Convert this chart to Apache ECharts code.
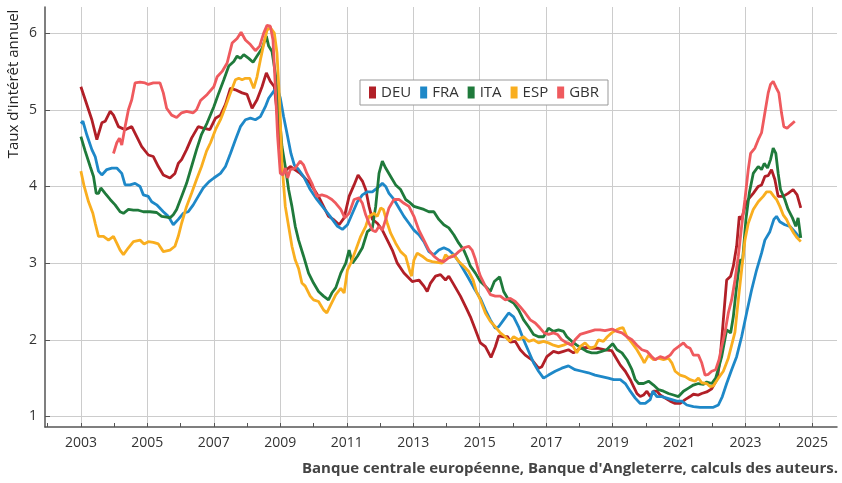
<!DOCTYPE html>
<html lang="fr">
<head>
<meta charset="utf-8">
<title>Taux d'intérêt annuel</title>
<script src="https://cdn.jsdelivr.net/npm/echarts@6.0.0/dist/echarts.min.js"></script>
<style>
  html, body { margin: 0; padding: 0; background: #fff; }
  .line .chart { width: 842px; height: 483px; }
</style>
</head>
<body>
<div class="line"><div class="chart"></div></div>
<script>
// tick labels
var yearLabels = [2003, 2005, 2007, 2009, 2011, 2013, 2015, 2017, 2019, 2021, 2023, 2025];
var yearMinor = [2002, 2004, 2006, 2008, 2010, 2012, 2014, 2016, 2018, 2020, 2022, 2024];
var rateLabels = [1, 2, 3, 4, 5, 6];
var countries = ["DEU", "FRA", "ITA", "ESP", "GBR"];

// [année, taux]
var deu = [[2003.0,5.30],[2003.13,5.13],[2003.23,5.0],[2003.33,4.87],[2003.48,4.61],[2003.63,4.83],[2003.73,4.85],[2003.88,4.98],[2003.98,4.93],[2004.13,4.78],[2004.33,4.74],[2004.53,4.78],[2004.68,4.65],[2004.83,4.52],[2005.03,4.41],[2005.18,4.39],[2005.33,4.26],[2005.48,4.15],[2005.68,4.11],[2005.83,4.17],[2005.93,4.30],[2006.03,4.35],[2006.18,4.48],[2006.33,4.63],[2006.53,4.78],[2006.68,4.76],[2006.88,4.74],[2007.05,4.89],[2007.2,4.93],[2007.35,5.07],[2007.5,5.28],[2007.65,5.26],[2007.85,5.22],[2008.0,5.2],[2008.15,5.02],[2008.3,5.13],[2008.45,5.30],[2008.58,5.48],[2008.7,5.37],[2008.82,5.30],[2008.95,4.78],[2009.05,4.17],[2009.3,4.26],[2009.6,4.17],[2009.9,4.04],[2010.15,3.87],[2010.45,3.61],[2010.6,3.57],[2010.77,3.5],[2010.92,3.59],[2011.07,3.87],[2011.22,4.02],[2011.34,4.15],[2011.47,4.07],[2011.57,3.96],[2011.67,3.74],[2011.77,3.57],[2011.92,3.52],[2012.07,3.43],[2012.22,3.3],[2012.37,3.17],[2012.52,3.0],[2012.72,2.87],[2012.97,2.76],[2013.17,2.78],[2013.32,2.7],[2013.42,2.63],[2013.52,2.74],[2013.67,2.83],[2013.82,2.85],[2013.97,2.78],[2014.07,2.83],[2014.22,2.72],[2014.42,2.57],[2014.6,2.41],[2014.72,2.30],[2014.87,2.13],[2015.02,1.96],[2015.17,1.91],[2015.34,1.77],[2015.47,1.91],[2015.57,2.05],[2015.72,2.04],[2015.84,2.04],[2015.92,1.97],[2016.07,1.98],[2016.22,1.87],[2016.37,1.80],[2016.57,1.74],[2016.77,1.63],[2016.87,1.65],[2017.02,1.78],[2017.22,1.85],[2017.37,1.83],[2017.52,1.85],[2017.67,1.87],[2017.82,1.83],[2018.02,1.89],[2018.22,1.9],[2018.37,1.89],[2018.57,1.89],[2018.77,1.87],[2018.97,1.86],[2019.08,1.78],[2019.23,1.67],[2019.38,1.59],[2019.53,1.48],[2019.63,1.39],[2019.73,1.30],[2019.83,1.26],[2019.93,1.28],[2020.03,1.33],[2020.13,1.26],[2020.23,1.33],[2020.33,1.33],[2020.43,1.28],[2020.58,1.24],[2020.73,1.20],[2020.88,1.17],[2021.03,1.17],[2021.18,1.22],[2021.33,1.26],[2021.43,1.29],[2021.58,1.28],[2021.68,1.30],[2021.83,1.32],[2021.98,1.36],[2022.08,1.44],[2022.15,1.50],[2022.23,1.74],[2022.33,2.26],[2022.43,2.78],[2022.55,2.83],[2022.63,2.96],[2022.73,3.22],[2022.81,3.61],[2022.88,3.57],[2022.98,3.74],[2023.08,3.83],[2023.23,3.91],[2023.38,4.0],[2023.48,4.02],[2023.58,4.13],[2023.68,4.14],[2023.78,4.22],[2023.88,4.09],[2023.98,3.87],[2024.13,3.87],[2024.28,3.91],[2024.43,3.96],[2024.55,3.89],[2024.66,3.72]];

var fra = [[2003.0,4.82],[2003.06,4.85],[2003.18,4.67],[2003.33,4.48],[2003.43,4.39],[2003.53,4.2],[2003.63,4.15],[2003.78,4.22],[2003.93,4.24],[2004.08,4.24],[2004.23,4.17],[2004.33,4.02],[2004.48,4.02],[2004.63,4.04],[2004.78,4.0],[2004.88,3.89],[2005.03,3.87],[2005.13,3.8],[2005.28,3.76],[2005.48,3.67],[2005.63,3.61],[2005.78,3.5],[2005.93,3.57],[2006.08,3.65],[2006.23,3.67],[2006.38,3.76],[2006.53,3.87],[2006.68,3.98],[2006.85,4.06],[2007.0,4.11],[2007.2,4.17],[2007.35,4.26],[2007.5,4.43],[2007.65,4.61],[2007.8,4.78],[2007.95,4.87],[2008.1,4.89],[2008.25,4.87],[2008.4,4.91],[2008.55,5.04],[2008.65,5.15],[2008.8,5.24],[2008.9,5.3],[2009.0,5.15],[2009.1,4.91],[2009.22,4.65],[2009.32,4.43],[2009.42,4.28],[2009.55,4.22],[2009.7,4.13],[2009.9,3.96],[2010.1,3.83],[2010.3,3.72],[2010.5,3.61],[2010.72,3.48],[2010.87,3.44],[2011.02,3.5],[2011.17,3.65],[2011.32,3.8],[2011.47,3.89],[2011.62,3.93],[2011.77,3.93],[2011.92,3.98],[2012.07,4.04],[2012.17,4.0],[2012.27,3.91],[2012.42,3.83],[2012.57,3.72],[2012.72,3.61],[2012.87,3.52],[2013.02,3.43],[2013.17,3.37],[2013.32,3.28],[2013.47,3.15],[2013.62,3.11],[2013.77,3.17],[2013.92,3.2],[2014.07,3.17],[2014.22,3.11],[2014.37,3.02],[2014.52,2.91],[2014.67,2.8],[2014.82,2.68],[2015.02,2.54],[2015.17,2.39],[2015.32,2.26],[2015.47,2.15],[2015.57,2.17],[2015.72,2.26],[2015.87,2.35],[2016.02,2.3],[2016.17,2.17],[2016.32,2.0],[2016.47,1.85],[2016.62,1.7],[2016.77,1.59],[2016.92,1.5],[2017.07,1.54],[2017.27,1.59],[2017.47,1.63],[2017.67,1.66],[2017.87,1.61],[2018.07,1.59],[2018.27,1.57],[2018.47,1.54],[2018.67,1.52],[2018.87,1.5],[2019.03,1.48],[2019.23,1.48],[2019.38,1.43],[2019.53,1.33],[2019.68,1.24],[2019.83,1.17],[2019.98,1.17],[2020.13,1.22],[2020.21,1.33],[2020.33,1.26],[2020.48,1.26],[2020.63,1.24],[2020.78,1.22],[2020.93,1.2],[2021.08,1.2],[2021.23,1.15],[2021.43,1.13],[2021.63,1.12],[2021.83,1.12],[2022.03,1.12],[2022.18,1.15],[2022.3,1.26],[2022.43,1.43],[2022.58,1.61],[2022.73,1.78],[2022.88,2.04],[2023.03,2.35],[2023.18,2.65],[2023.33,2.91],[2023.48,3.13],[2023.58,3.3],[2023.73,3.41],[2023.85,3.57],[2023.93,3.61],[2024.03,3.54],[2024.18,3.5],[2024.33,3.48],[2024.48,3.41],[2024.63,3.33]];

var ita = [[2003.0,4.65],[2003.13,4.46],[2003.28,4.26],[2003.38,4.13],[2003.46,3.91],[2003.53,3.91],[2003.6,3.98],[2003.73,3.91],[2003.88,3.83],[2004.03,3.76],[2004.18,3.67],[2004.28,3.65],[2004.43,3.7],[2004.58,3.69],[2004.73,3.69],[2004.88,3.67],[2005.08,3.67],[2005.28,3.66],[2005.43,3.61],[2005.58,3.6],[2005.68,3.59],[2005.78,3.63],[2005.88,3.7],[2006.03,3.87],[2006.18,4.04],[2006.33,4.26],[2006.48,4.48],[2006.63,4.68],[2006.8,4.83],[2007.0,5.04],[2007.15,5.22],[2007.3,5.39],[2007.45,5.57],[2007.6,5.63],[2007.7,5.7],[2007.8,5.67],[2007.9,5.72],[2008.05,5.67],[2008.18,5.62],[2008.3,5.7],[2008.45,5.8],[2008.58,5.96],[2008.65,5.83],[2008.75,5.76],[2008.85,5.48],[2008.95,5.04],[2009.05,4.52],[2009.15,4.26],[2009.25,3.96],[2009.35,3.74],[2009.45,3.48],[2009.55,3.3],[2009.7,3.09],[2009.85,2.87],[2010.0,2.74],[2010.15,2.63],[2010.3,2.57],[2010.45,2.52],[2010.55,2.61],[2010.67,2.68],[2010.82,2.87],[2010.97,3.0],[2011.07,3.17],[2011.17,3.0],[2011.32,3.09],[2011.47,3.2],[2011.62,3.41],[2011.77,3.46],[2011.87,3.74],[2011.97,4.17],[2012.07,4.33],[2012.17,4.24],[2012.32,4.13],[2012.47,4.02],[2012.62,3.96],[2012.77,3.83],[2012.87,3.8],[2013.02,3.74],[2013.17,3.72],[2013.32,3.7],[2013.47,3.67],[2013.62,3.67],[2013.77,3.57],[2013.92,3.5],[2014.07,3.46],[2014.22,3.37],[2014.37,3.26],[2014.52,3.17],[2014.62,3.07],[2014.72,2.96],[2014.87,2.87],[2015.02,2.76],[2015.17,2.7],[2015.32,2.63],[2015.44,2.76],[2015.6,2.82],[2015.72,2.63],[2015.87,2.52],[2016.02,2.48],[2016.17,2.39],[2016.32,2.26],[2016.47,2.17],[2016.62,2.07],[2016.77,2.04],[2016.92,2.04],[2017.07,2.15],[2017.22,2.11],[2017.37,2.13],[2017.52,2.11],[2017.62,2.04],[2017.77,1.98],[2017.92,1.93],[2018.07,1.89],[2018.22,1.85],[2018.37,1.83],[2018.52,1.83],[2018.67,1.85],[2018.82,1.87],[2019.0,1.95],[2019.13,1.87],[2019.28,1.83],[2019.43,1.74],[2019.58,1.61],[2019.68,1.48],[2019.78,1.43],[2019.93,1.43],[2020.08,1.46],[2020.23,1.41],[2020.38,1.35],[2020.53,1.33],[2020.68,1.3],[2020.83,1.28],[2020.98,1.26],[2021.13,1.33],[2021.28,1.37],[2021.43,1.41],[2021.58,1.43],[2021.73,1.42],[2021.83,1.45],[2021.98,1.43],[2022.1,1.5],[2022.18,1.62],[2022.28,1.78],[2022.43,2.13],[2022.55,2.09],[2022.63,2.3],[2022.73,2.7],[2022.83,3.04],[2022.91,3.04],[2023.01,3.57],[2023.11,3.91],[2023.23,4.17],[2023.38,4.26],[2023.48,4.22],[2023.56,4.3],[2023.66,4.24],[2023.75,4.35],[2023.83,4.5],[2023.91,4.43],[2023.98,4.17],[2024.05,3.96],[2024.18,3.83],[2024.28,3.7],[2024.41,3.59],[2024.51,3.48],[2024.58,3.59],[2024.66,3.33]];

var esp = [[2003.0,4.2],[2003.1,4.0],[2003.23,3.8],[2003.36,3.65],[2003.43,3.52],[2003.53,3.35],[2003.68,3.35],[2003.83,3.3],[2003.98,3.35],[2004.08,3.26],[2004.18,3.17],[2004.28,3.11],[2004.43,3.2],[2004.58,3.28],[2004.78,3.3],[2004.9,3.25],[2005.03,3.28],[2005.18,3.27],[2005.33,3.25],[2005.48,3.15],[2005.68,3.17],[2005.83,3.22],[2005.93,3.35],[2006.03,3.52],[2006.18,3.74],[2006.33,3.91],[2006.48,4.09],[2006.63,4.26],[2006.78,4.46],[2006.9,4.57],[2007.05,4.74],[2007.2,4.87],[2007.35,5.04],[2007.5,5.22],[2007.65,5.39],[2007.75,5.41],[2007.85,5.39],[2007.95,5.41],[2008.08,5.41],[2008.2,5.28],[2008.3,5.43],[2008.4,5.65],[2008.5,5.85],[2008.6,6.04],[2008.7,6.07],[2008.82,6.0],[2008.9,5.74],[2008.98,5.09],[2009.05,4.3],[2009.15,3.74],[2009.25,3.48],[2009.35,3.22],[2009.45,3.04],[2009.55,2.93],[2009.65,2.74],[2009.75,2.7],[2009.9,2.57],[2010.0,2.52],[2010.15,2.5],[2010.3,2.39],[2010.4,2.35],[2010.52,2.46],[2010.67,2.59],[2010.82,2.67],[2010.92,2.61],[2011.02,2.91],[2011.12,3.0],[2011.27,3.17],[2011.42,3.35],[2011.57,3.48],[2011.67,3.61],[2011.82,3.65],[2011.92,3.61],[2012.02,3.72],[2012.1,3.7],[2012.22,3.52],[2012.32,3.39],[2012.47,3.26],[2012.62,3.15],[2012.77,3.09],[2012.9,2.89],[2012.95,2.83],[2013.02,3.04],[2013.12,3.13],[2013.27,3.09],[2013.42,3.04],[2013.57,3.02],[2013.72,3.01],[2013.87,3.0],[2013.97,3.11],[2014.07,3.07],[2014.22,3.11],[2014.37,3.02],[2014.52,2.96],[2014.67,2.89],[2014.8,2.78],[2014.9,2.63],[2015.02,2.52],[2015.17,2.35],[2015.32,2.24],[2015.47,2.17],[2015.62,2.09],[2015.77,2.04],[2015.9,1.98],[2016.02,2.04],[2016.17,2.0],[2016.32,2.04],[2016.47,1.98],[2016.62,2.0],[2016.77,1.96],[2016.92,1.98],[2017.07,1.96],[2017.22,1.93],[2017.37,1.91],[2017.52,1.93],[2017.67,1.96],[2017.82,1.91],[2017.92,1.83],[2018.02,1.91],[2018.17,1.96],[2018.32,1.89],[2018.47,1.91],[2018.57,2.0],[2018.72,1.98],[2018.84,2.04],[2018.97,2.09],[2019.12,2.13],[2019.22,2.15],[2019.31,2.16],[2019.43,2.04],[2019.58,1.96],[2019.73,1.87],[2019.88,1.76],[2019.95,1.7],[2020.08,1.8],[2020.23,1.74],[2020.38,1.76],[2020.53,1.74],[2020.68,1.76],[2020.78,1.7],[2020.88,1.59],[2021.03,1.54],[2021.18,1.52],[2021.33,1.48],[2021.48,1.46],[2021.58,1.5],[2021.68,1.44],[2021.83,1.43],[2021.93,1.39],[2022.03,1.40],[2022.18,1.50],[2022.33,1.59],[2022.48,1.76],[2022.58,1.93],[2022.68,2.1],[2022.78,2.52],[2022.88,2.91],[2022.98,3.3],[2023.08,3.52],[2023.23,3.7],[2023.38,3.8],[2023.53,3.87],[2023.63,3.93],[2023.75,3.93],[2023.85,3.87],[2023.93,3.83],[2024.03,3.74],[2024.13,3.63],[2024.23,3.57],[2024.33,3.48],[2024.45,3.39],[2024.55,3.33],[2024.66,3.28]];

var gbr = [[2003.98,4.43],[2004.08,4.57],[2004.16,4.63],[2004.23,4.54],[2004.33,4.78],[2004.43,5.0],[2004.53,5.13],[2004.63,5.35],[2004.78,5.36],[2004.93,5.35],[2005.03,5.33],[2005.18,5.35],[2005.38,5.35],[2005.48,5.22],[2005.58,5.02],[2005.73,4.93],[2005.88,4.9],[2006.03,4.96],[2006.18,4.98],[2006.38,4.96],[2006.48,5.0],[2006.6,5.12],[2006.8,5.2],[2007.0,5.3],[2007.1,5.43],[2007.25,5.5],[2007.4,5.61],[2007.55,5.87],[2007.7,5.93],[2007.82,6.01],[2007.95,5.91],[2008.1,5.85],[2008.25,5.77],[2008.38,5.83],[2008.5,6.0],[2008.6,6.1],[2008.7,6.09],[2008.78,5.91],[2008.85,5.3],[2008.92,4.65],[2009.0,4.17],[2009.08,4.15],[2009.15,4.24],[2009.22,4.11],[2009.3,4.22],[2009.45,4.24],[2009.6,4.33],[2009.7,4.28],[2009.8,4.17],[2009.95,4.04],[2010.1,3.87],[2010.25,3.89],[2010.4,3.87],[2010.55,3.83],[2010.67,3.78],[2010.82,3.7],[2010.94,3.59],[2011.07,3.65],[2011.22,3.83],[2011.37,3.85],[2011.47,3.78],[2011.57,3.63],[2011.67,3.52],[2011.77,3.43],[2011.87,3.41],[2011.97,3.48],[2012.07,3.43],[2012.17,3.57],[2012.27,3.72],[2012.42,3.83],[2012.57,3.83],[2012.72,3.78],[2012.87,3.74],[2013.02,3.61],[2013.17,3.43],[2013.32,3.3],[2013.47,3.17],[2013.62,3.09],[2013.77,3.04],[2013.92,3.02],[2014.07,3.07],[2014.22,3.09],[2014.37,3.15],[2014.52,3.2],[2014.67,3.22],[2014.77,3.17],[2014.87,3.05],[2014.95,2.92],[2015.02,2.83],[2015.17,2.7],[2015.32,2.59],[2015.47,2.57],[2015.62,2.57],[2015.77,2.52],[2015.92,2.54],[2016.07,2.5],[2016.22,2.43],[2016.37,2.35],[2016.52,2.26],[2016.67,2.22],[2016.82,2.15],[2016.94,2.09],[2017.07,2.07],[2017.22,2.09],[2017.34,2.07],[2017.47,2.0],[2017.62,1.96],[2017.77,1.93],[2017.87,2.0],[2018.02,2.07],[2018.17,2.09],[2018.32,2.11],[2018.47,2.13],[2018.62,2.13],[2018.77,2.12],[2018.98,2.14],[2019.13,2.11],[2019.28,2.09],[2019.43,2.04],[2019.58,2.0],[2019.73,1.93],[2019.88,1.87],[2020.03,1.85],[2020.18,1.78],[2020.28,1.74],[2020.43,1.78],[2020.58,1.76],[2020.73,1.8],[2020.85,1.87],[2020.98,1.91],[2021.13,1.96],[2021.23,1.91],[2021.33,1.89],[2021.43,1.8],[2021.58,1.8],[2021.68,1.7],[2021.78,1.54],[2021.88,1.55],[2021.98,1.59],[2022.1,1.61],[2022.2,1.74],[2022.28,1.91],[2022.38,2.1],[2022.48,2.35],[2022.58,2.52],[2022.68,2.78],[2022.78,3.09],[2022.88,3.48],[2022.98,3.83],[2023.08,4.22],[2023.15,4.43],[2023.28,4.5],[2023.38,4.61],[2023.48,4.7],[2023.58,4.96],[2023.68,5.22],[2023.75,5.33],[2023.83,5.37],[2023.93,5.28],[2024.0,5.22],[2024.08,4.96],[2024.15,4.78],[2024.25,4.76],[2024.35,4.8],[2024.48,4.85]];

(function () {
  var font = "'Open Sans', 'Noto Sans', sans-serif";
  var colors = ["#B11F27", "#1E88C8", "#1F7A3B", "#F9AE1F", "#EF5A5E"];
  var seriesData = [deu, fra, ita, esp, gbr];

  // 实例化对象
  var myChart = echarts.init(document.querySelector(".line .chart"), null, { renderer: "canvas" });

  var option = {
    animation: false,
    color: colors,
    textStyle: { fontFamily: font },
    grid: { left: 45, right: 5, top: 7, bottom: 56 },
    legend: {
      left: 360,
      top: 80,
      padding: [5, 9, 5, 9],
      itemGap: 9,
      itemWidth: 7,
      itemHeight: 12,
      icon: "rect",
      borderColor: "#999",
      borderWidth: 1,
      backgroundColor: "#fff",
      textStyle: { fontSize: 15, color: "#333", fontFamily: font },
      data: countries,
    },
    xAxis: [
      {
        type: "value",
        min: 2001.92,
        max: 2025.75,
        axisLine: { lineStyle: { color: "#555", width: 1.5 } },
        axisTick: { inside: true, length: 4, customValues: yearLabels, lineStyle: { color: "#555" } },
        axisLabel: {
          customValues: yearLabels,
          color: "#333",
          fontSize: 14,
          margin: 9,
          formatter: function (v) { return String(v); },
        },
        splitLine: { show: true, lineStyle: { color: "#cccccc", width: 1 } },
      },
      {
        // even years: ticks only
        type: "value",
        position: "bottom",
        min: 2001.92,
        max: 2025.75,
        axisLine: { show: false },
        axisTick: { inside: true, length: 4, customValues: yearMinor, lineStyle: { color: "#555" } },
        axisLabel: { show: false },
        splitLine: { show: false },
      },
    ],
    yAxis: {
      type: "value",
      min: 0.863,
      max: 6.34,
      axisLine: { show: true, lineStyle: { color: "#555", width: 1.5 } },
      axisTick: { show: true, inside: true, length: 5, customValues: rateLabels, lineStyle: { color: "#555" } },
      axisLabel: { customValues: rateLabels, color: "#333", fontSize: 14, margin: 8 },
      splitLine: { show: true, lineStyle: { color: "#cccccc", width: 1 } },
    },
    graphic: [
      {
        type: "text",
        x: 14,
        y: 84,
        rotation: Math.PI / 2,
        style: {
          text: "Taux d'intérêt annuel",
          fill: "#222",
          font: "15px " + font,
          align: "center",
          verticalAlign: "middle",
        },
      },
      {
        type: "text",
        right: 4,
        top: 461,
        style: {
          text: "Banque centrale européenne, Banque d'Angleterre, calculs des auteurs.",
          fill: "#444",
          font: "bold 15px " + font,
        },
      },
    ],
    series: countries.map(function (name, i) {
      return {
        name: name,
        type: "line",
        xAxisIndex: 0,
        showSymbol: false,
        symbol: "none",
        data: seriesData[i],
        lineStyle: { width: 2.8, color: colors[i] },
        itemStyle: { color: colors[i] },
        z: 2 + i,
      };
    }),
  };

  // 把配置给实例对象
  myChart.setOption(option);
  window.addEventListener("resize", function () {
    myChart.resize();
  });
})();
</script>
</body>
</html>
